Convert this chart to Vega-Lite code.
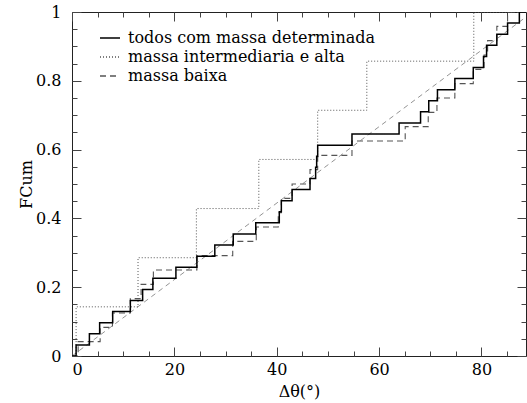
{
  "$schema": "https://vega.github.io/schema/vega-lite/v6.json",
  "width": 454,
  "height": 344,
  "autosize": {"type": "none"},
  "padding": {"left": 72, "top": 12, "right": 1, "bottom": 47},
  "background": "white",
  "config": {
    "view": {"stroke": "#222", "strokeWidth": 1},
    "axis": {
      "domain": false,
      "grid": false,
      "labelFont": "DejaVu Serif",
      "titleFont": "DejaVu Serif",
      "labelFontSize": 16,
      "titleFontSize": 16,
      "titleFontWeight": "normal",
      "labelColor": "#000",
      "titleColor": "#000",
      "tickColor": "#444",
      "tickWidth": 1
    },
    "legend": {
      "labelFont": "DejaVu Serif",
      "labelFontSize": 16,
      "labelColor": "#000",
      "labelLimit": 500
    }
  },
  "datasets": {
    "cdf": [
      {"serie": "todos com massa determinada", "dtheta": 0, "F": 0},
      {"serie": "todos com massa determinada", "dtheta": 0.8, "F": 0.0323},
      {"serie": "todos com massa determinada", "dtheta": 3.4, "F": 0.0645},
      {"serie": "todos com massa determinada", "dtheta": 5.4, "F": 0.0968},
      {"serie": "todos com massa determinada", "dtheta": 7.95, "F": 0.129},
      {"serie": "todos com massa determinada", "dtheta": 11.4, "F": 0.1613},
      {"serie": "todos com massa determinada", "dtheta": 13.8, "F": 0.1935},
      {"serie": "todos com massa determinada", "dtheta": 15.8, "F": 0.2258},
      {"serie": "todos com massa determinada", "dtheta": 20.3, "F": 0.2581},
      {"serie": "todos com massa determinada", "dtheta": 24.4, "F": 0.2903},
      {"serie": "todos com massa determinada", "dtheta": 27.9, "F": 0.3226},
      {"serie": "todos com massa determinada", "dtheta": 31.5, "F": 0.3548},
      {"serie": "todos com massa determinada", "dtheta": 35.9, "F": 0.3871},
      {"serie": "todos com massa determinada", "dtheta": 40.5, "F": 0.4194},
      {"serie": "todos com massa determinada", "dtheta": 40.9, "F": 0.4516},
      {"serie": "todos com massa determinada", "dtheta": 43.0, "F": 0.4839},
      {"serie": "todos com massa determinada", "dtheta": 46.5, "F": 0.5161},
      {"serie": "todos com massa determinada", "dtheta": 47.6, "F": 0.5484},
      {"serie": "todos com massa determinada", "dtheta": 47.8, "F": 0.5806},
      {"serie": "todos com massa determinada", "dtheta": 48.0, "F": 0.6129},
      {"serie": "todos com massa determinada", "dtheta": 54.7, "F": 0.6452},
      {"serie": "todos com massa determinada", "dtheta": 63.9, "F": 0.6774},
      {"serie": "todos com massa determinada", "dtheta": 68.1, "F": 0.7097},
      {"serie": "todos com massa determinada", "dtheta": 69.7, "F": 0.7419},
      {"serie": "todos com massa determinada", "dtheta": 71.4, "F": 0.7742},
      {"serie": "todos com massa determinada", "dtheta": 74.8, "F": 0.8065},
      {"serie": "todos com massa determinada", "dtheta": 78.4, "F": 0.8387},
      {"serie": "todos com massa determinada", "dtheta": 80.4, "F": 0.871},
      {"serie": "todos com massa determinada", "dtheta": 81.0, "F": 0.9032},
      {"serie": "todos com massa determinada", "dtheta": 83.0, "F": 0.9355},
      {"serie": "todos com massa determinada", "dtheta": 85.1, "F": 0.9677},
      {"serie": "todos com massa determinada", "dtheta": 87.4, "F": 1},
      {"serie": "todos com massa determinada", "dtheta": 88.7, "F": 1},
      {"serie": "massa intermediaria e alta", "dtheta": 0, "F": 0},
      {"serie": "massa intermediaria e alta", "dtheta": 0.8, "F": 0.1429},
      {"serie": "massa intermediaria e alta", "dtheta": 12.9, "F": 0.2857},
      {"serie": "massa intermediaria e alta", "dtheta": 24.3, "F": 0.4286},
      {"serie": "massa intermediaria e alta", "dtheta": 36.5, "F": 0.5714},
      {"serie": "massa intermediaria e alta", "dtheta": 48.0, "F": 0.7143},
      {"serie": "massa intermediaria e alta", "dtheta": 57.6, "F": 0.8571},
      {"serie": "massa intermediaria e alta", "dtheta": 78.5, "F": 1},
      {"serie": "massa intermediaria e alta", "dtheta": 88.7, "F": 1},
      {"serie": "massa baixa", "dtheta": 0, "F": 0},
      {"serie": "massa baixa", "dtheta": 1.2, "F": 0.0417},
      {"serie": "massa baixa", "dtheta": 5.5, "F": 0.0833},
      {"serie": "massa baixa", "dtheta": 7.9, "F": 0.125},
      {"serie": "massa baixa", "dtheta": 11.4, "F": 0.1667},
      {"serie": "massa baixa", "dtheta": 13.5, "F": 0.2083},
      {"serie": "massa baixa", "dtheta": 15.9, "F": 0.25},
      {"serie": "massa baixa", "dtheta": 24.4, "F": 0.2917},
      {"serie": "massa baixa", "dtheta": 31.4, "F": 0.3333},
      {"serie": "massa baixa", "dtheta": 36.0, "F": 0.375},
      {"serie": "massa baixa", "dtheta": 40.3, "F": 0.4167},
      {"serie": "massa baixa", "dtheta": 40.9, "F": 0.4583},
      {"serie": "massa baixa", "dtheta": 43.0, "F": 0.5},
      {"serie": "massa baixa", "dtheta": 46.5, "F": 0.5417},
      {"serie": "massa baixa", "dtheta": 48.0, "F": 0.5833},
      {"serie": "massa baixa", "dtheta": 54.7, "F": 0.625},
      {"serie": "massa baixa", "dtheta": 65.1, "F": 0.6667},
      {"serie": "massa baixa", "dtheta": 69.6, "F": 0.7083},
      {"serie": "massa baixa", "dtheta": 71.3, "F": 0.75},
      {"serie": "massa baixa", "dtheta": 74.8, "F": 0.7917},
      {"serie": "massa baixa", "dtheta": 78.4, "F": 0.8333},
      {"serie": "massa baixa", "dtheta": 80.5, "F": 0.875},
      {"serie": "massa baixa", "dtheta": 81.2, "F": 0.9167},
      {"serie": "massa baixa", "dtheta": 83.0, "F": 0.9583},
      {"serie": "massa baixa", "dtheta": 85.1, "F": 1},
      {"serie": "massa baixa", "dtheta": 88.7, "F": 1}
    ],
    "uniforme": [
      {"dtheta": 0, "F": 0},
      {"dtheta": 90, "F": 1}
    ]
  },
  "layer": [
    {
      "data": {"name": "uniforme"},
      "mark": {"type": "line", "clip": true, "color": "#777", "strokeWidth": 0.8, "strokeDash": [5, 4]},
      "encoding": {
        "x": {"field": "dtheta", "type": "quantitative", "scale": {"domain": [0, 88.7], "nice": false, "zero": false},
          "axis": {"orient": "top", "values": [0, 20, 40, 60, 80], "labels": false, "tickSize": -9, "title": null}},
        "y": {"field": "F", "type": "quantitative", "scale": {"domain": [0, 1], "nice": false},
          "axis": {"orient": "right", "values": [0, 0.2, 0.4, 0.6, 0.8, 1], "labels": false, "tickSize": -9, "title": null}}
      }
    },
    {
      "data": {"name": "cdf"},
      "transform": [{"filter": "datum.serie === 'massa baixa'"}],
      "mark": {"type": "line", "interpolate": "step-after", "clip": true, "strokeWidth": 1.1},
      "encoding": {
        "x": {"field": "dtheta", "type": "quantitative", "scale": {"domain": [0, 88.7], "nice": false, "zero": false},
          "axis": {"orient": "bottom", "values": [5, 10, 15, 25, 30, 35, 45, 50, 55, 65, 70, 75, 85], "labels": false, "tickSize": -5, "title": null}},
        "y": {"field": "F", "type": "quantitative", "scale": {"domain": [0, 1], "nice": false},
          "axis": {"orient": "left", "values": [0.05, 0.1, 0.15, 0.25, 0.3, 0.35, 0.45, 0.5, 0.55, 0.65, 0.7, 0.75, 0.85, 0.9, 0.95], "labels": false, "tickSize": -5, "title": null}},
        "color": {"field": "serie", "type": "nominal", "scale": {"domain": ["todos com massa determinada", "massa intermediaria e alta", "massa baixa"], "range": ["#000000", "#555555", "#555555"]}},
        "strokeDash": {"field": "serie", "type": "nominal", "scale": {"domain": ["todos com massa determinada", "massa intermediaria e alta", "massa baixa"], "range": [[1, 0], [1, 2], [6, 4]]}}
      }
    },
    {
      "data": {"name": "cdf"},
      "transform": [{"filter": "datum.serie === 'massa intermediaria e alta'"}],
      "mark": {"type": "line", "interpolate": "step-after", "clip": true, "strokeWidth": 1},
      "encoding": {
        "x": {"field": "dtheta", "type": "quantitative", "scale": {"domain": [0, 88.7], "nice": false, "zero": false},
          "axis": {"orient": "top", "values": [5, 10, 15, 25, 30, 35, 45, 50, 55, 65, 70, 75, 85], "labels": false, "tickSize": -5, "title": null}},
        "y": {"field": "F", "type": "quantitative", "scale": {"domain": [0, 1], "nice": false},
          "axis": {"orient": "right", "values": [0.05, 0.1, 0.15, 0.25, 0.3, 0.35, 0.45, 0.5, 0.55, 0.65, 0.7, 0.75, 0.85, 0.9, 0.95], "labels": false, "tickSize": -5, "title": null}},
        "color": {"field": "serie", "type": "nominal", "scale": {"domain": ["todos com massa determinada", "massa intermediaria e alta", "massa baixa"], "range": ["#000000", "#555555", "#555555"]}},
        "strokeDash": {"field": "serie", "type": "nominal", "scale": {"domain": ["todos com massa determinada", "massa intermediaria e alta", "massa baixa"], "range": [[1, 0], [1, 2], [6, 4]]}}
      }
    },
    {
      "data": {"name": "cdf"},
      "transform": [{"filter": "datum.serie === 'todos com massa determinada'"}],
      "mark": {"type": "line", "interpolate": "step-after", "clip": true, "strokeWidth": 1.5},
      "encoding": {
        "x": {"field": "dtheta", "type": "quantitative", "scale": {"domain": [0, 88.7], "nice": false, "zero": false},
          "axis": {"orient": "bottom", "values": [0, 20, 40, 60, 80], "tickSize": -9, "labelPadding": 14, "title": "Δθ(°)", "titlePadding": 6}},
        "y": {"field": "F", "type": "quantitative", "scale": {"domain": [0, 1], "nice": false},
          "axis": {"orient": "left", "values": [0, 0.2, 0.4, 0.6, 0.8, 1], "format": "~g", "tickSize": -9, "labelPadding": 20, "title": "FCum", "titleX": -46, "titleY": 172, "titleBaseline": "middle", "titleAngle": -90}},
        "color": {"field": "serie", "type": "nominal", "scale": {"domain": ["todos com massa determinada", "massa intermediaria e alta", "massa baixa"], "range": ["#000000", "#555555", "#555555"]},
          "legend": {"orient": "none", "legendX": 27, "legendY": 15, "title": null, "symbolType": "stroke", "symbolSize": 400, "symbolStrokeWidth": 1.4, "labelOffset": 7, "rowPadding": -3, "padding": 0, "labelLimit": 500}},
        "strokeDash": {"field": "serie", "type": "nominal", "scale": {"domain": ["todos com massa determinada", "massa intermediaria e alta", "massa baixa"], "range": [[1, 0], [1, 2], [6, 4]]},
          "legend": {"orient": "none", "legendX": 27, "legendY": 15, "title": null, "symbolType": "stroke", "symbolSize": 400, "symbolStrokeWidth": 1.4, "labelOffset": 7, "rowPadding": -3, "padding": 0, "labelLimit": 500}}
      }
    }
  ],
  "resolve": {"axis": {"x": "independent", "y": "independent"}}
}
